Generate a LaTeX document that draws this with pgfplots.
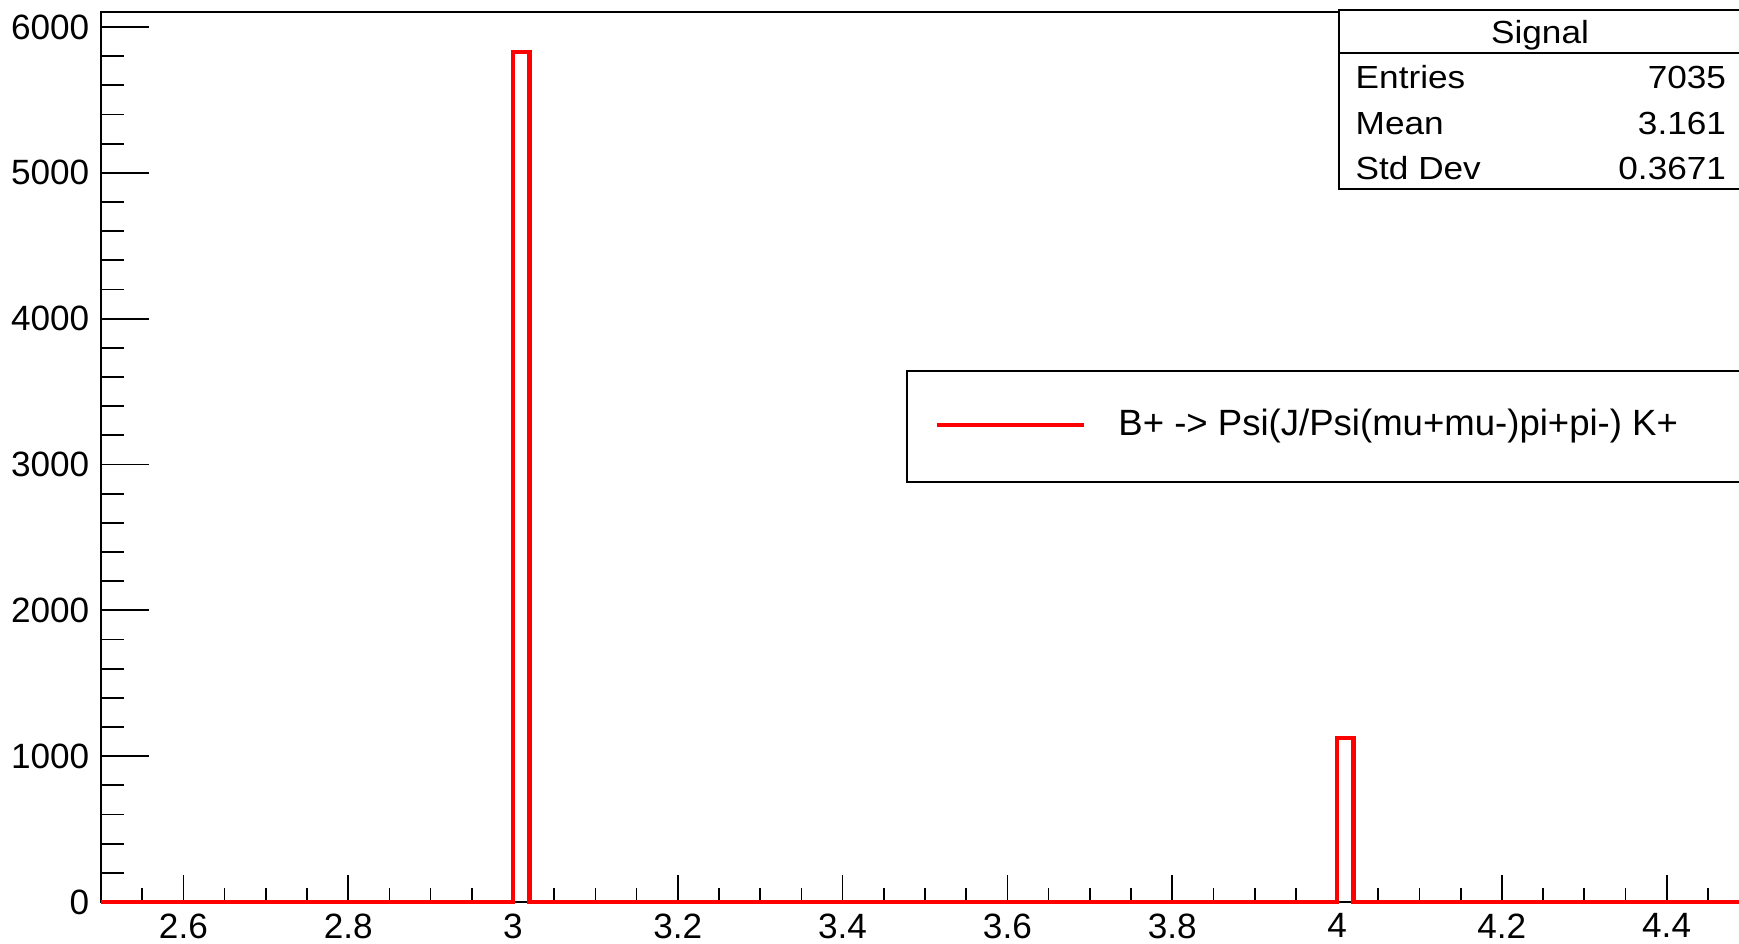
\documentclass[border=0pt]{standalone}
\usepackage{fontspec}
\setmainfont{Liberation Sans}
\newfontfamily\statsfont{Liberation Sans}[FakeStretch=1.1]
\usepackage{pgfplots}
\pgfplotsset{compat=1.18}
\begin{document}
\begin{tikzpicture}
\pgfplotsset{common/.style={
  width=16.48cm, height=8.90cm, scale only axis,
  xmin=2.5, xmax=4.5, ymin=0, ymax=6103,
  at={(0,0)}, anchor=south west,
  axis line style={line width=0.6pt, black},
  tick style={black, line width=0.5pt},
  tick align=inside, clip=false,
  /pgf/number format/assume math mode=true,
  /pgf/number format/1000 sep={},
  scaled y ticks=false, scaled x ticks=false,
}}
% y ticks
\begin{axis}[common,
  ytick={0,1000,2000,3000,4000,5000,6000},
  minor ytick={0,200,...,6000},
  ytick pos=left, xtick=\empty,
  major tick length=0.48cm, minor tick length=0.23cm,
  yticklabel style={font=\fontsize{10}{12}\selectfont, inner sep=0pt, xshift=-0.11cm},
]
\end{axis}
% x ticks and histogram
\begin{axis}[common,
  xtick={2.6,2.8,3,3.2,3.4,3.6,3.8,4,4.2,4.4},
  xticklabels={2.6,2.8,3,3.2,3.4,3.6,3.8,4,4.2,4.4},
  minor xtick={2.55,2.65,2.7,2.75,2.85,2.9,2.95,3.05,3.1,3.15,3.25,3.3,3.35,3.45,3.5,3.55,3.65,3.7,3.75,3.85,3.9,3.95,4.05,4.1,4.15,4.25,4.3,4.35,4.45},
  xtick pos=bottom, ytick=\empty,
  major tick length=0.27cm, minor tick length=0.14cm,
  xticklabel style={font=\fontsize{10}{12}\selectfont, inner sep=0pt, yshift=-0.11cm},
]
\addplot[const plot, red, line width=1.15pt, line join=miter] coordinates {
  (2.5,0) (3.0,5830) (3.02,0) (4.0,1124) (4.02,0) (4.5,0)
};
\end{axis}
% stats box
\draw[line width=0.6pt, fill=white] (12.38,7.13) rectangle (16.48,8.92);
\draw[line width=0.6pt] (12.38,8.49) -- (16.48,8.49);
\begin{scope}[every node/.style={inner sep=0pt, font=\statsfont\fontsize{9.1}{11}\selectfont}]
\node[anchor=base] at (14.39,8.59) {Signal};
\node[anchor=base west] at (12.54,8.13) {Entries};
\node[anchor=base east] at (16.257,8.13) {7035};
\node[anchor=base west] at (12.54,7.675) {Mean};
\node[anchor=base east] at (16.257,7.675) {3.161};
\node[anchor=base west] at (12.54,7.23) {Std Dev};
\node[anchor=base east] at (16.257,7.23) {0.3671};
\end{scope}
% legend
\draw[line width=0.6pt, fill=white] (8.06,4.20) rectangle (16.48,5.313);
\draw[red, line width=1.15pt] (8.357,4.773) -- (9.83,4.773);
\node[anchor=base west, inner sep=0pt, font=\fontsize{10.4}{12}\selectfont] at (10.167,4.663) {B+ -> Psi(J/Psi(mu+mu-)pi+pi-) K+};
\pgfresetboundingbox
\useasboundingbox (-1.01,-0.41) rectangle (16.38,9.02);
\end{tikzpicture}
\end{document}
